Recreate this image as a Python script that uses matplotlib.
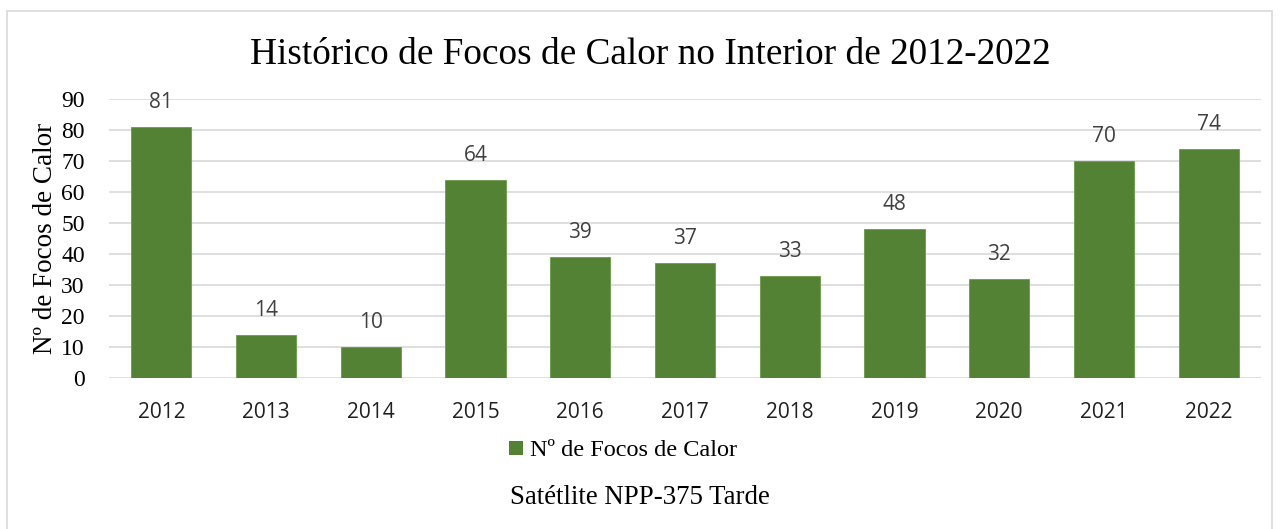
import matplotlib
matplotlib.use("Agg")
import matplotlib.pyplot as plt
from matplotlib.patches import Rectangle, Patch

years = ["2012", "2013", "2014", "2015", "2016", "2017", "2018", "2019", "2020", "2021", "2022"]
focos = [81, 14, 10, 64, 39, 37, 33, 48, 32, 70, 74]
yticks = [0, 10, 20, 30, 40, 50, 60, 70, 80, 90]

green = "#548235"
W, H = 1280, 529
fig = plt.figure(figsize=(W / 100, H / 100), dpi=100)
fig.patch.set_facecolor("white")

# chart frame
fig.patches.append(Rectangle((7 / W, -0.05), (1272 - 7) / W, 1 - 11 / H + 0.05,
                             transform=fig.transFigure, fill=False,
                             edgecolor="#d9d9d9", linewidth=1.2))

ax = fig.add_axes([109 / W, 1 - 378 / H, (1261 - 109) / W, (378 - 99) / H])
x = list(range(len(years)))
bars = ax.bar(x, focos, width=0.575, color=green, edgecolor="#6a9a4a", linewidth=0.6, zorder=3)
ax.set_xlim(-0.5, len(years) - 0.5)
ax.set_ylim(0, 90)
ax.set_yticks(yticks)
ax.set_yticklabels([str(t) for t in yticks], fontfamily="Liberation Serif", fontsize=17)
ax.set_xticks(x)
ax.set_xticklabels(years, fontfamily="Open Sans", fontsize=15, color="#202020")
ax.tick_params(axis="both", length=0)
ax.tick_params(axis="x", pad=17)
ax.tick_params(axis="y", pad=17.5)
ax.grid(axis="y", color="#d9d9d9", linewidth=1.2, zorder=0)
for s in ax.spines.values():
    s.set_visible(False)

for xi, v in zip(x, focos):
    ax.annotate(str(v), (xi, v), xytext=(0, 10), textcoords="offset points",
                ha="center", va="bottom", fontfamily="Open Sans", fontsize=15, color="#404040")

ax.set_ylabel("Nº de Focos de Calor", fontfamily="Liberation Serif", fontsize=19.5)
ax.yaxis.set_label_coords((58 - 109) / (1261 - 109), 0.5)

fig.text(650 / W, 1 - 55 / H, "Histórico de Focos de Calor no Interior de 2012-2022",
         ha="center", va="center", fontfamily="Liberation Serif", fontsize=26.8)

fig.legend(handles=[Patch(facecolor=green, label="Nº de Focos de Calor")],
           loc="center", bbox_to_anchor=(623 / W, 1 - 451 / H), frameon=False,
           prop={"family": "Liberation Serif", "size": 17.5}, handlelength=0.55, handleheight=0.55,
           handletextpad=0.3)

fig.text(640 / W, 1 - 497 / H, "Satétlite NPP-375 Tarde", ha="center", va="center",
         fontfamily="Liberation Serif", fontsize=19.4)

fig.savefig("out.png", dpi=100)
